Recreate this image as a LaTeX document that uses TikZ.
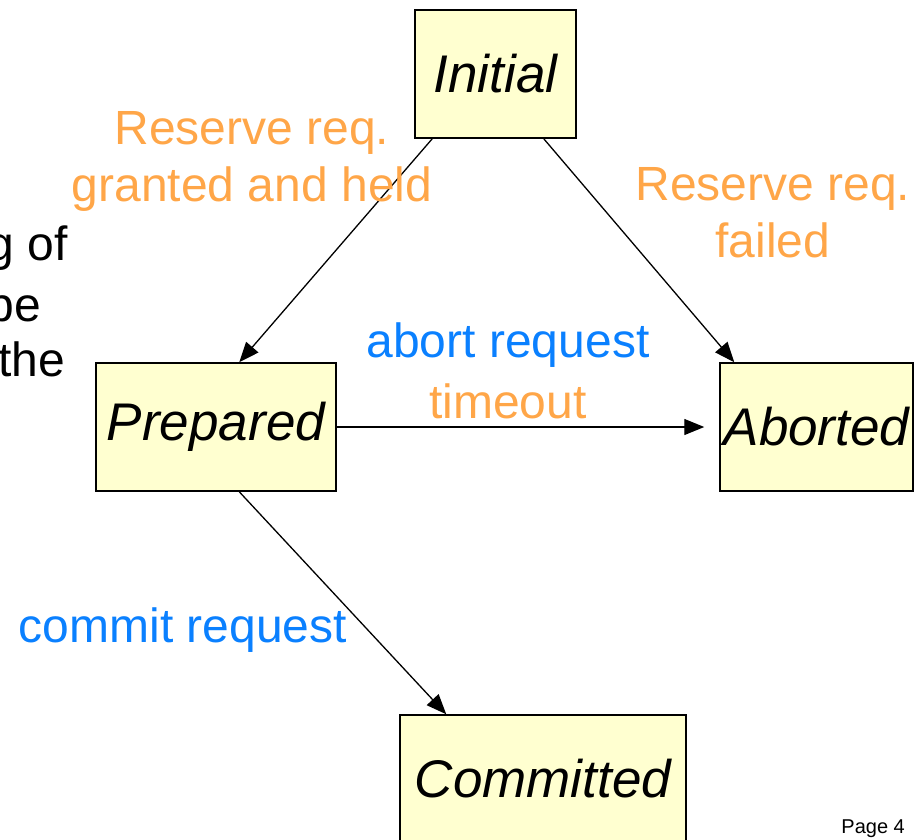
\documentclass[tikz,border=0pt]{standalone}
\usepackage{fontspec}
\setmainfont{Liberation Sans}
\usepackage{tikz}
\usepackage{xcolor}
\usetikzlibrary{arrows.meta}
\definecolor{statefill}{RGB}{255,255,208}
\definecolor{labelorange}{RGB}{255,166,72}
\definecolor{labelblue}{RGB}{10,128,255}
\tikzset{
    state-box/.style = {draw=black, fill=statefill, line width=1.5pt, rectangle, inner sep=0pt, minimum height=128pt, font=\fontsize{53}{60}\selectfont\itshape},
    orange-label/.style = {text=labelorange, align=center, inner sep=0pt, font=\fontsize{48}{57}\selectfont},
    blue-label/.style = {text=labelblue, align=center, inner sep=0pt, font=\fontsize{48}{57}\selectfont},
    trans-arrow/.style = {-{Triangle[length=20pt,width=16pt]}, line width=1.3pt},
}

\begin{document}
\begin{tikzpicture}[x=1pt,y=-1pt]
\useasboundingbox (0,0) rectangle (920,839);
% states
\node [state-box, minimum width=161pt] (initial) at (495.5,74) {Initial};
\node [state-box, minimum width=240pt] (prepared) at (216,427) {Prepared};
\node [state-box, minimum width=193pt] (aborted) at (816.5,427) {Aborted};
\node [state-box, minimum width=286pt] (committed) at (543,779) {Committed};
% transitions
\draw [trans-arrow] ([xshift=18pt]initial.south west) -- ([xshift=144pt]prepared.north west);
\draw [trans-arrow] ([xshift=-33pt]initial.south east) -- ([xshift=15pt]aborted.north west);
\draw [trans-arrow] (prepared.east) -- ([xshift=-15pt]aborted.west);
\draw [trans-arrow] ([xshift=144pt]prepared.south west) -- ([xshift=47pt]committed.north west);
% labels
\node [orange-label] (grantlbl) at (252,161) {Reserve req.\\granted and held};
\node [orange-label] (faillbl) at (773,213) {Reserve req.\\failed};
\node [blue-label] (abortlbl) at (508,345) {abort request};
\node [orange-label] (timeoutlbl) at (508,401) {timeout};
\node [blue-label] (commitlbl) at (183,630) {commit request};
% cut-off slide text
\node [anchor=east, inner sep=0pt, font=\fontsize{48}{57}\selectfont] (textone) at (68,248) {g of};
\node [anchor=east, inner sep=0pt, font=\fontsize{48}{57}\selectfont] (texttwo) at (41,304) {be};
\node [anchor=east, inner sep=0pt, font=\fontsize{48}{57}\selectfont] (textthree) at (65,359) {the};
\node [anchor=east, inner sep=0pt, font=\fontsize{20}{24}\selectfont] (pagenum) at (905,829) {Page 4};
\end{tikzpicture}
\end{document}
